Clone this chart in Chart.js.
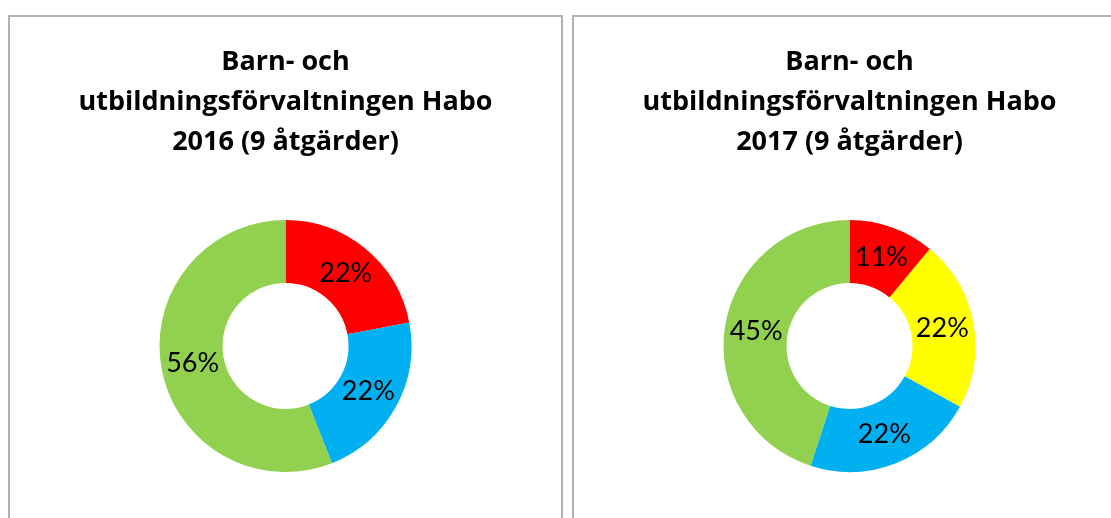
<!DOCTYPE html>
<html>
<head>
<meta charset="utf-8">
<script src="https://cdn.jsdelivr.net/npm/chart.js@4.4.0/dist/chart.umd.min.js"></script>
<style>
  html, body { margin: 0; padding: 0; background: #fff; overflow: hidden; width: 1111px; height: 518px; }
  .panel { position: absolute; top: 15px; height: 520px; border: 2px solid #b2b2b2; border-bottom: none; box-sizing: border-box; background: #fff; }
  #p1 { left: 8px; width: 555px; }
  #p2 { left: 572px; width: 560px; }
  canvas { position: absolute; top: 1px; }
  #c1 { left: 0px; }
  #c2 { left: 0px; }
</style>
</head>
<body>
<div class="panel" id="p1"><canvas id="c1" width="551" height="502"></canvas></div>
<div class="panel" id="p2"><canvas id="c2" width="551" height="502"></canvas></div>
<script>
// Data
const title2016 = ["Barn- och", "utbildningsförvaltningen Habo", "2016 (9 åtgärder)"];
const categories2016 = ["Röd", "Blå", "Grön"];
const values2016 = [22, 22, 56];
const colors2016 = ["#FF0000", "#00B0F0", "#92D050"];

const title2017 = ["Barn- och", "utbildningsförvaltningen Habo", "2017 (9 åtgärder)"];
const categories2017 = ["Röd", "Gul", "Blå", "Grön"];
const values2017 = [11, 22, 22, 45];
const colors2017 = ["#FF0000", "#FFFF00", "#00B0F0", "#92D050"];

const labelPlugin = {
  id: 'sliceLabels',
  afterDatasetsDraw(chart) {
    const ctx = chart.ctx;
    const meta = chart.getDatasetMeta(0);
    const data = chart.data.datasets[0].data;
    ctx.save();
    ctx.font = '27px Lato';
    ctx.fillStyle = '#000';
    ctx.textAlign = 'center';
    ctx.textBaseline = 'middle';
    meta.data.forEach((arc, i) => {
      const p = arc.tooltipPosition();
      ctx.fillText(data[i] + '%', p.x, p.y);
    });
    ctx.restore();
  }
};

function makeChart(id, titleLines, cats, vals, cols) {
  return new Chart(document.getElementById(id), {
    type: 'doughnut',
    data: {
      labels: cats,
      datasets: [{ data: vals, backgroundColor: cols, borderWidth: 0, hoverOffset: 0 }]
    },
    options: {
      responsive: false,
      animation: false,
      cutout: '50%',
      layout: { padding: { top: 0, bottom: 48, left: 0, right: 0 } },
      plugins: {
        legend: { display: false },
        tooltip: { enabled: false },
        title: {
          display: true,
          text: titleLines,
          color: '#000',
          font: { family: "'Open Sans'", size: 27, weight: 'bold', lineHeight: 40 / 27 },
          padding: { top: 24, bottom: 58 }
        }
      }
    },
    plugins: [labelPlugin]
  });
}

makeChart('c1', title2016, categories2016, values2016, colors2016);
makeChart('c2', title2017, categories2017, values2017, colors2017);
</script>
</body>
</html>
